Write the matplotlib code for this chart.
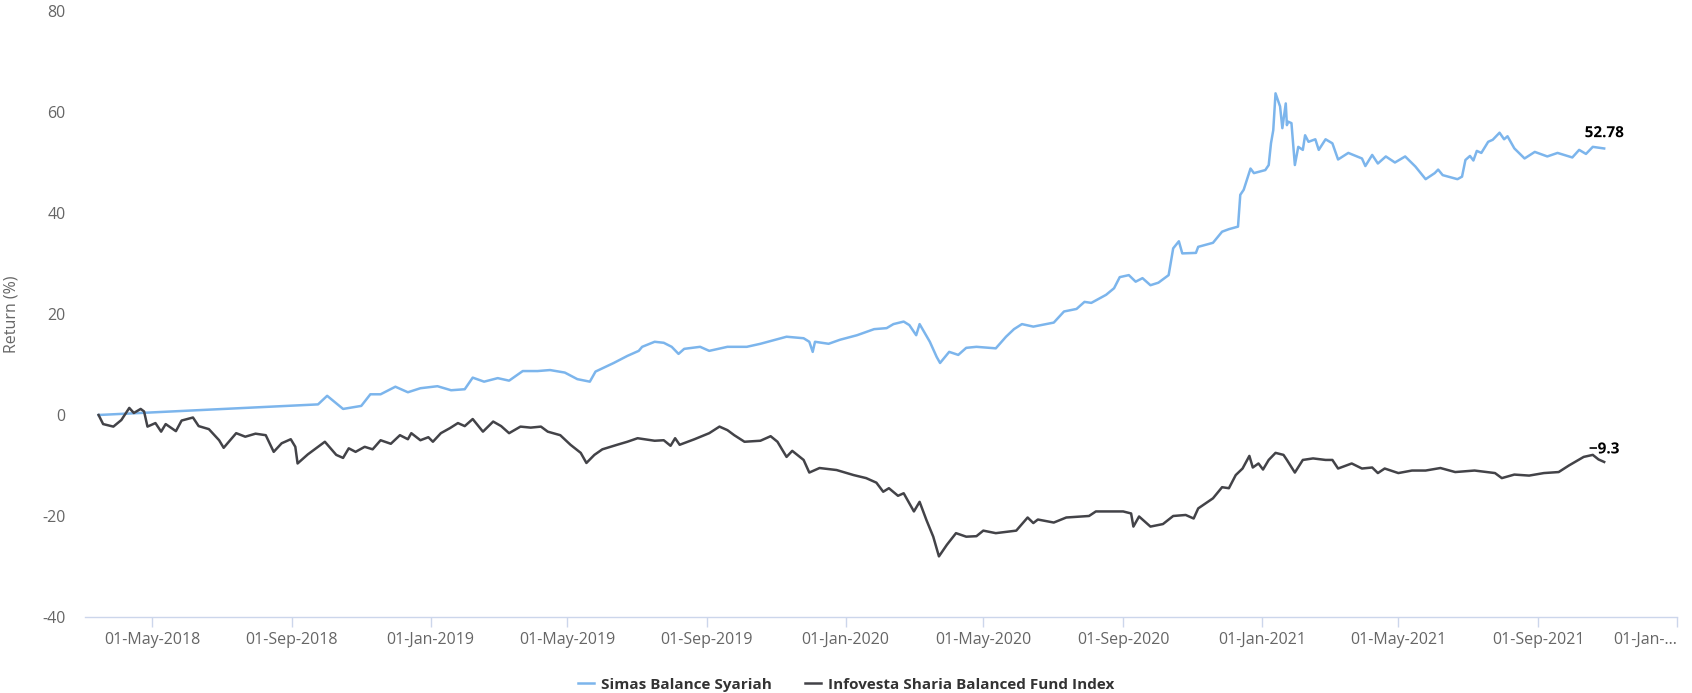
import numpy as np
import pandas as pd
import matplotlib
matplotlib.use("Agg")
import matplotlib.pyplot as plt
import matplotlib.patheffects as pe

# Simas Balance Syariah (return %)
simas_dates = [
    "2018-03-15", "2018-09-24", "2018-10-02", "2018-10-16", "2018-11-01", "2018-11-09",
    "2018-11-18", "2018-12-01", "2018-12-12", "2018-12-23", "2019-01-07", "2019-01-19",
    "2019-01-31", "2019-02-07", "2019-02-17", "2019-03-01", "2019-03-11", "2019-03-23",
    "2019-04-05", "2019-04-16", "2019-04-29", "2019-05-10", "2019-05-21", "2019-05-26",
    "2019-06-11", "2019-06-23", "2019-07-03", "2019-07-06", "2019-07-17", "2019-07-25",
    "2019-08-01", "2019-08-07", "2019-08-12", "2019-08-26", "2019-09-03", "2019-09-19",
    "2019-10-06", "2019-10-18", "2019-11-10", "2019-11-25", "2019-11-30", "2019-12-03",
    "2019-12-05", "2019-12-17", "2019-12-27", "2020-01-11", "2020-01-26", "2020-02-06",
    "2020-02-12", "2020-02-21", "2020-02-26", "2020-03-03", "2020-03-06", "2020-03-15",
    "2020-03-21", "2020-03-24", "2020-04-01", "2020-04-09", "2020-04-16", "2020-04-25",
    "2020-05-12", "2020-05-21", "2020-05-28", "2020-06-04", "2020-06-14", "2020-07-02",
    "2020-07-11", "2020-07-22", "2020-07-29", "2020-08-04", "2020-08-17", "2020-08-24",
    "2020-08-29", "2020-09-06", "2020-09-12", "2020-09-18", "2020-09-25", "2020-10-02",
    "2020-10-11", "2020-10-15", "2020-10-20", "2020-10-23", "2020-11-04", "2020-11-06",
    "2020-11-19", "2020-11-27", "2020-12-03", "2020-12-11", "2020-12-13", "2020-12-16",
    "2020-12-22", "2020-12-25", "2021-01-04", "2021-01-07", "2021-01-09", "2021-01-11",
    "2021-01-13", "2021-01-17", "2021-01-19", "2021-01-22", "2021-01-23", "2021-01-24",
    "2021-01-27", "2021-01-30", "2021-02-02", "2021-02-06", "2021-02-08", "2021-02-11",
    "2021-02-17", "2021-02-20", "2021-02-26", "2021-03-04", "2021-03-09", "2021-03-18",
    "2021-03-30", "2021-04-02", "2021-04-08", "2021-04-13", "2021-04-20", "2021-04-28",
    "2021-05-07", "2021-05-16", "2021-05-25", "2021-06-02", "2021-06-05", "2021-06-09",
    "2021-06-22", "2021-06-26", "2021-06-29", "2021-07-03", "2021-07-06", "2021-07-09",
    "2021-07-13", "2021-07-19", "2021-07-23", "2021-07-29", "2021-08-02", "2021-08-05",
    "2021-08-11", "2021-08-20", "2021-08-29", "2021-09-09", "2021-09-18", "2021-10-01",
    "2021-10-07", "2021-10-13", "2021-10-19", "2021-10-29",
]
simas_values = [
    0.0, 2.1, 3.8, 1.2, 1.8, 4.1,
    4.1, 5.6, 4.5, 5.3, 5.7, 4.9,
    5.1, 7.4, 6.6, 7.3, 6.8, 8.7,
    8.7, 8.9, 8.4, 7.1, 6.6, 8.6,
    10.3, 11.7, 12.7, 13.5, 14.5, 14.3,
    13.5, 12.1, 13.1, 13.5, 12.7, 13.5,
    13.5, 14.1, 15.5, 15.2, 14.5, 12.5,
    14.5, 14.1, 14.9, 15.8, 17.0, 17.2,
    18.0, 18.5, 17.8, 15.8, 18.0, 14.5,
    11.5, 10.3, 12.5, 11.9, 13.3, 13.5,
    13.2, 15.5, 17.0, 18.0, 17.5, 18.3,
    20.5, 21.0, 22.4, 22.2, 23.8, 25.1,
    27.3, 27.7, 26.4, 27.1, 25.7, 26.2,
    27.7, 33.0, 34.4, 32.0, 32.1, 33.3,
    34.1, 36.3, 36.8, 37.3, 43.6, 44.6,
    48.8, 47.9, 48.5, 49.5, 53.8, 56.4,
    63.7, 61.1, 56.8, 61.7, 57.4, 58.1,
    57.8, 49.5, 53.1, 52.5, 55.4, 54.1,
    54.6, 52.5, 54.6, 53.8, 50.6, 51.9,
    50.8, 49.3, 51.5, 49.8, 51.2, 50.0,
    51.2, 49.2, 46.7, 47.9, 48.6, 47.5,
    46.7, 47.2, 50.5, 51.3, 50.4, 52.3,
    51.9, 54.1, 54.5, 55.9, 54.6, 55.2,
    52.8, 50.8, 52.1, 51.2, 51.9, 51.0,
    52.5, 51.7, 53.1, 52.78,
]

# Infovesta Sharia Balanced Fund Index (return %)
infovesta_dates = [
    "2018-03-15", "2018-03-19", "2018-03-28", "2018-04-04", "2018-04-11", "2018-04-15",
    "2018-04-21", "2018-04-24", "2018-04-27", "2018-05-04", "2018-05-09", "2018-05-13",
    "2018-05-22", "2018-05-27", "2018-06-06", "2018-06-11", "2018-06-20", "2018-06-29",
    "2018-07-03", "2018-07-14", "2018-07-22", "2018-07-31", "2018-08-09", "2018-08-16",
    "2018-08-23", "2018-08-31", "2018-09-04", "2018-09-06", "2018-09-15", "2018-09-21",
    "2018-09-30", "2018-10-10", "2018-10-16", "2018-10-21", "2018-10-27", "2018-11-04",
    "2018-11-11", "2018-11-18", "2018-11-27", "2018-12-05", "2018-12-12", "2018-12-15",
    "2018-12-23", "2018-12-30", "2019-01-03", "2019-01-10", "2019-01-18", "2019-01-25",
    "2019-01-31", "2019-02-07", "2019-02-16", "2019-02-25", "2019-03-04", "2019-03-11",
    "2019-03-21", "2019-03-30", "2019-04-08", "2019-04-14", "2019-04-25", "2019-05-04",
    "2019-05-13", "2019-05-18", "2019-05-25", "2019-06-01", "2019-06-14", "2019-06-23",
    "2019-07-02", "2019-07-17", "2019-07-25", "2019-07-31", "2019-08-04", "2019-08-08",
    "2019-08-21", "2019-09-03", "2019-09-12", "2019-09-19", "2019-09-25", "2019-10-04",
    "2019-10-18", "2019-10-27", "2019-11-02", "2019-11-10", "2019-11-15", "2019-11-25",
    "2019-11-30", "2019-12-09", "2019-12-24", "2020-01-08", "2020-01-19", "2020-01-28",
    "2020-02-03", "2020-02-08", "2020-02-16", "2020-02-21", "2020-03-01", "2020-03-06",
    "2020-03-12", "2020-03-18", "2020-03-23", "2020-03-30", "2020-04-07", "2020-04-16",
    "2020-04-25", "2020-05-01", "2020-05-12", "2020-05-30", "2020-06-09", "2020-06-14",
    "2020-06-18", "2020-07-02", "2020-07-13", "2020-08-02", "2020-08-08", "2020-09-01",
    "2020-09-08", "2020-09-10", "2020-09-15", "2020-09-25", "2020-10-06", "2020-10-15",
    "2020-10-26", "2020-11-02", "2020-11-06", "2020-11-19", "2020-11-27", "2020-12-03",
    "2020-12-09", "2020-12-15", "2020-12-21", "2020-12-24", "2020-12-29", "2021-01-02",
    "2021-01-07", "2021-01-13", "2021-01-20", "2021-01-23", "2021-01-30", "2021-02-06",
    "2021-02-15", "2021-02-26", "2021-03-04", "2021-03-09", "2021-03-21", "2021-03-30",
    "2021-04-08", "2021-04-13", "2021-04-19", "2021-05-01", "2021-05-13", "2021-05-25",
    "2021-06-07", "2021-06-20", "2021-07-07", "2021-07-25", "2021-07-31", "2021-08-11",
    "2021-08-24", "2021-09-06", "2021-09-19", "2021-09-28", "2021-10-11", "2021-10-19",
    "2021-10-24", "2021-10-29",
]
infovesta_values = [
    0.0, -1.8, -2.3, -1.0, 1.4, 0.4,
    1.2, 0.7, -2.3, -1.6, -3.3, -1.8,
    -3.2, -1.1, -0.5, -2.2, -2.8, -5.0,
    -6.5, -3.6, -4.3, -3.7, -4.0, -7.3,
    -5.6, -4.8, -6.3, -9.6, -7.8, -6.8,
    -5.3, -7.9, -8.5, -6.6, -7.3, -6.3,
    -6.8, -5.0, -5.7, -4.0, -4.8, -3.6,
    -5.0, -4.4, -5.3, -3.6, -2.6, -1.6,
    -2.2, -0.8, -3.3, -1.3, -2.2, -3.6,
    -2.3, -2.5, -2.3, -3.3, -4.0, -5.9,
    -7.5, -9.5, -7.9, -6.8, -5.9, -5.3,
    -4.6, -5.1, -5.0, -6.1, -4.6, -5.9,
    -4.8, -3.6, -2.3, -3.0, -4.0, -5.3,
    -5.1, -4.2, -5.3, -8.3, -7.1, -8.9,
    -11.4, -10.5, -10.9, -11.9, -12.5, -13.4,
    -15.2, -14.5, -16.0, -15.5, -19.1, -17.2,
    -20.8, -24.1, -28.0, -25.7, -23.4, -24.1,
    -24.0, -22.9, -23.4, -22.9, -20.3, -21.4,
    -20.7, -21.3, -20.3, -20.0, -19.1, -19.1,
    -19.5, -22.1, -20.1, -22.1, -21.6, -20.0,
    -19.8, -20.5, -18.5, -16.5, -14.3, -14.5,
    -11.9, -10.6, -8.1, -10.4, -9.6, -10.8,
    -8.9, -7.5, -7.9, -8.9, -11.4, -8.9,
    -8.6, -8.9, -8.9, -10.6, -9.6, -10.6,
    -10.4, -11.5, -10.6, -11.5, -11.0, -11.0,
    -10.5, -11.3, -11.0, -11.5, -12.5, -11.8,
    -12.0, -11.5, -11.3, -10.0, -8.3, -7.9,
    -8.8, -9.3,
]

series_names = ["Simas Balance Syariah", "Infovesta Sharia Balanced Fund Index"]
end_labels = ["52.78", "\u22129.3"]
y_ticks = [-40, -20, 0, 20, 40, 60, 80]
x_tick_dates = ["2018-05-01", "2018-09-01", "2019-01-01", "2019-05-01", "2019-09-01",
                "2020-01-01", "2020-05-01", "2020-09-01", "2021-01-01", "2021-05-01",
                "2021-09-01", "2022-01-01"]

blue = "#7cb5ec"
dark = "#434348"
axis_col = "#ccd6eb"
label_col = "#666666"

plt.rcParams['font.family'] = ['Open Sans', 'DejaVu Sans']

fig = plt.figure(figsize=(16.92, 6.93), dpi=100)
ax = fig.add_axes([0.0502, 0.1097, 0.9409, 0.8744])

s_x = pd.to_datetime(simas_dates)
i_x = pd.to_datetime(infovesta_dates)
ax.plot(s_x, simas_values, color=blue, lw=1.8, solid_joinstyle='round', label=series_names[0], zorder=3)
ax.plot(i_x, infovesta_values, color=dark, lw=1.8, solid_joinstyle='round', label=series_names[1], zorder=3)

# last value labels
outline = [pe.withStroke(linewidth=2.5, foreground='white')]
ax.annotate(end_labels[0], (s_x[-1], simas_values[-1]), xytext=(0, 6), textcoords='offset points',
            ha='center', va='bottom', fontsize=11, fontweight='bold', color='#000000',
            path_effects=outline, zorder=4)
ax.annotate(end_labels[1], (i_x[-1], infovesta_values[-1]), xytext=(0, 4), textcoords='offset points',
            ha='center', va='bottom', fontsize=11, fontweight='bold', color='#000000',
            path_effects=outline, zorder=4)

ax.set_ylim(-40, 80)
ax.set_yticks(y_ticks)
ax.set_yticklabels([str(v) for v in y_ticks])
ax.set_xlim(pd.Timestamp("2018-03-03"), pd.Timestamp("2022-01-01"))
xt = pd.to_datetime(x_tick_dates)
ax.set_xticks(xt)
xlabels = [d.strftime("%d-%b-%Y") for d in xt]
xlabels[-1] = "01-Jan-..."
ax.set_xticklabels(xlabels)
ax.get_xticklabels()[-1].set_horizontalalignment('right')

for side in ['top', 'right', 'left']:
    ax.spines[side].set_visible(False)
ax.spines['bottom'].set_color(axis_col)
ax.spines['bottom'].set_linewidth(1.0)
ax.tick_params(axis='x', colors=label_col, length=7, width=1, color=axis_col, pad=4, labelsize=11.5)
ax.tick_params(axis='y', colors=label_col, length=0, pad=14, labelsize=11.5)

ax.set_ylabel("Return (%)", color=label_col, fontsize=11.5, labelpad=10)
ax.yaxis.set_label_coords(-0.041, 0.5)

leg = fig.legend(loc='lower center', bbox_to_anchor=(0.5, -0.018), ncol=2, frameon=False,
                 handlelength=1.05, handletextpad=0.45, columnspacing=2.2,
                 prop={'weight': 'bold', 'size': 11})
for t in leg.get_texts():
    t.set_color('#333333')

fig.savefig("out.png", dpi=100, facecolor='white')
